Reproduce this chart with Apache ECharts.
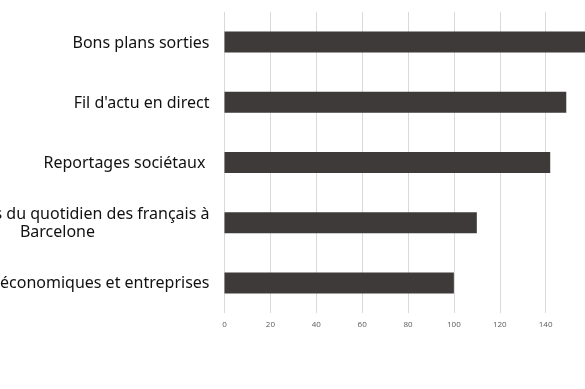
<!DOCTYPE html>
<html><head><meta charset="utf-8">
<script src="https://cdn.jsdelivr.net/npm/echarts@6/dist/echarts.min.js"></script>
<style>html,body{margin:0;padding:0;background:#fff}#c{width:585px;height:389px}</style>
</head><body><div id="c"></div>
<script>
const categories = [
  "Bons plans sorties",
  "Fil d'actu en direct",
  "Reportages sociétaux ",
  "Les coulisses du quotidien des français à\nBarcelone",
  "Actualités économiques et entreprises"
];
const values = [160, 149, 142, 110, 100];
const tickValues = [0, 20, 40, 60, 80, 100, 120, 140, 160];

const chart = echarts.init(document.getElementById('c'));
chart.setOption({
  animation: false,
  grid: {left: 224.5, top: 12, width: 367, height: 301, containLabel: false, outerBoundsMode: 'none'},
  xAxis: {
    type: 'value', min: 0, max: tickValues[tickValues.length-1], interval: 20,
    axisLine: {show: false}, axisTick: {show: false},
    splitLine: {show: true, lineStyle: {color: '#d9d9d9', width: 1}},
    axisLabel: {color: '#595959', fontSize: 8, fontFamily: 'Open Sans', margin: 8}
  },
  yAxis: {
    type: 'category', data: categories, inverse: true,
    axisLine: {show: false}, axisTick: {show: false},
    axisLabel: {
      margin: 15, color: '#000',
      formatter: function (v) { return v.split('\n').map(s => '{a|' + s + '}').join('\n'); },
      rich: {a: {align: 'center', fontSize: 16, fontFamily: 'Noto Sans', color: '#111', lineHeight: 18, padding: [2, 0, 0, 0]}}
    }
  },
  series: [{
    type: 'bar', data: values, barWidth: 21,
    itemStyle: {color: '#3d3a39'}
  }]
});
</script></body></html>
